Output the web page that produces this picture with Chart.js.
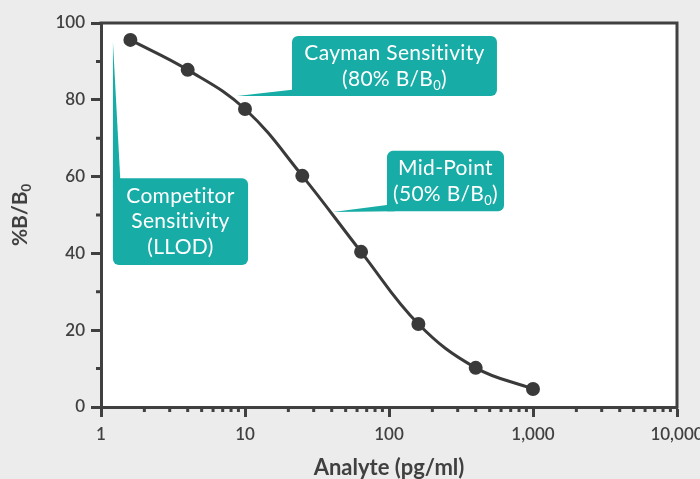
<!DOCTYPE html>
<html lang="en">
<head>
    <meta charset="utf-8">
    <title>Standard Curve</title>
    <style>
      * {
        margin: 0;
        padding: 0;
      }
      body {
        background: #ececec;
      }
      .chartBox {
        width: 700px;
        height: 479px;
      }
    </style>
</head>
<body>
    <div class="chartBox">
      <canvas id="curveChart"></canvas>
    </div>
    <script src="https://cdn.jsdelivr.net/npm/chart.js/dist/chart.umd.min.js"></script>
    <script>
        // Standard curve
        const concentrations = [1.6, 4, 10, 25, 64, 160, 400, 1000];
        const percentBound = [95.6, 87.8, 77.6, 60.2, 40.4, 21.6, 10.2, 4.7];

        const xTickValues = [1, 10, 100, 1000, 10000];
        const xTickLabels = ['1', '10', '100', '1,000', '10,000'];
        const yMinorTicks = [10, 30, 50, 70, 90];

        // Callout texts ("_0" = subscript 0)
        const caymanLines = ['Cayman Sensitivity', '(80% B/B_0)'];
        const midPointLines = ['Mid-Point', '(50% B/B_0)'];
        const competitorLines = ['Competitor', 'Sensitivity', '(LLOD)'];

        const ink = '#404040';
        const teal = '#17aca6';

        // Callout boxes and pointers, in data units (x: pg/ml, y: %B/B0)
        const callouts = [
            {
                lines: caymanLines,
                box: [21.2, 562, 96.6, 81.0],
                radii: [6, 6, 6, 0],
                wedge: [[21.2, 82.6], [8.8, 81.0], [24, 81.0]]
            },
            {
                lines: midPointLines,
                box: [96.8, 629, 66.7, 51.0],
                radii: [6, 6, 6, 0],
                wedge: [[96.8, 52.6], [40.8, 50.8], [110, 51.0]]
            },
            {
                lines: competitorLines,
                box: [1.21, 10.5, 59.6, 37.0],
                radii: [0, 6, 6, 6],
                wedge: [[1.21, 95.1], [1.21, 57], [1.36, 59.6]]
            }
        ];

        function richParts(text) {
            const parts = [];
            text.split('_').forEach((seg, i) => {
                if (i === 0) {
                    if (seg) parts.push({ t: seg, sub: false });
                    return;
                }
                parts.push({ t: seg[0], sub: true });
                if (seg.length > 1) parts.push({ t: seg.slice(1), sub: false });
            });
            return parts;
        }

        function drawRich(ctx, text, cx, cy, size, weight) {
            const parts = richParts(text);
            const subSize = Math.round(size * 0.62);
            let total = 0;
            parts.forEach(p => {
                ctx.font = weight + ' ' + (p.sub ? subSize : size) + 'px Lato';
                p.w = ctx.measureText(p.t).width;
                total += p.w;
            });
            let x = cx - total / 2;
            ctx.textAlign = 'left';
            ctx.textBaseline = 'middle';
            parts.forEach(p => {
                ctx.font = weight + ' ' + (p.sub ? subSize : size) + 'px Lato';
                ctx.fillText(p.t, x, p.sub ? cy + size * 0.32 : cy);
                x += p.w;
            });
        }

        const framePlugin = {
            id: 'frame',
            beforeDraw(chart) {
                const { ctx, chartArea: a } = chart;
                ctx.save();
                ctx.fillStyle = '#ffffff';
                ctx.fillRect(a.left, a.top, a.right - a.left, a.bottom - a.top);
                ctx.restore();
            },
            beforeDatasetsDraw(chart) {
                const { ctx } = chart;
                const xs = chart.scales.x, ys = chart.scales.y;
                ctx.save();
                ctx.letterSpacing = '0.3px';
                callouts.forEach(c => {
                    const x1 = xs.getPixelForValue(c.box[0]);
                    const x2 = xs.getPixelForValue(c.box[1]);
                    const y1 = ys.getPixelForValue(c.box[2]);
                    const y2 = ys.getPixelForValue(c.box[3]);
                    ctx.fillStyle = teal;
                    ctx.beginPath();
                    ctx.roundRect(x1, y1, x2 - x1, y2 - y1, c.radii);
                    ctx.fill();
                    ctx.beginPath();
                    c.wedge.forEach((p, i) => {
                        const px = xs.getPixelForValue(p[0]);
                        const py = ys.getPixelForValue(p[1]);
                        if (i === 0) ctx.moveTo(px, py); else ctx.lineTo(px, py);
                    });
                    ctx.closePath();
                    ctx.fill();
                    ctx.fillStyle = '#ffffff';
                    const lh = 25.5;
                    const cx = (x1 + x2) / 2;
                    const cy = (y1 + y2) / 2 - (c.lines.length - 1) * lh / 2;
                    c.lines.forEach((line, i) => drawRich(ctx, line, cx, cy + i * lh, 21, 'normal'));
                });
                ctx.restore();
            },
            afterDraw(chart) {
                const { ctx, chartArea: a } = chart;
                const xs = chart.scales.x, ys = chart.scales.y;
                ctx.save();
                ctx.strokeStyle = ink;
                ctx.lineWidth = 3;
                ctx.beginPath();
                ctx.moveTo(a.left - 1.5, a.top);
                ctx.lineTo(a.right, a.top);
                ctx.lineTo(a.right, a.bottom + 1.5);
                ctx.stroke();

                // minor ticks
                ctx.beginPath();
                yMinorTicks.forEach(v => {
                    const py = ys.getPixelForValue(v);
                    ctx.moveTo(a.left, py);
                    ctx.lineTo(a.left - 5, py);
                });
                xTickValues.slice(0, -1).forEach(d => {
                    for (let k = 2; k <= 9; k++) {
                        const px = xs.getPixelForValue(d * k);
                        ctx.moveTo(px, a.bottom);
                        ctx.lineTo(px, a.bottom + 5);
                    }
                });
                ctx.stroke();

                // y axis title with subscript
                ctx.fillStyle = ink;
                ctx.translate(20, (a.top + a.bottom) / 2);
                ctx.rotate(-Math.PI / 2);
                drawRich(ctx, '%B/B_0', 0, 0, 21, 'bold');
                ctx.restore();
            }
        };

        const ctx = document.getElementById('curveChart').getContext('2d');
        new Chart(ctx, {
            type: 'line',
            data: {
                labels: concentrations,
                datasets: [{
                    data: concentrations.map((c, i) => ({ x: c, y: percentBound[i] })),
                    borderColor: '#3a3a3a',
                    backgroundColor: '#3a3a3a',
                    borderWidth: 3,
                    pointRadius: 5.5,
                    pointHoverRadius: 5.5,
                    tension: 0.4,
                    fill: false
                }]
            },
            options: {
                responsive: true,
                maintainAspectRatio: false,
                animation: false,
                layout: {
                    padding: { left: 0, right: 23, top: 23, bottom: 0 }
                },
                plugins: {
                    legend: { display: false },
                    tooltip: { enabled: false }
                },
                scales: {
                    x: {
                        type: 'logarithmic',
                        min: 1,
                        max: 10000,
                        afterBuildTicks: scale => {
                            scale.ticks = xTickValues.map(v => ({ value: v }));
                        },
                        afterFit: scale => {
                            scale.height = 72;
                            scale.paddingRight = 0;
                        },
                        grid: {
                            drawOnChartArea: false,
                            drawTicks: true,
                            tickLength: 10,
                            tickWidth: 3,
                            tickColor: ink
                        },
                        border: { display: true, width: 3, color: ink },
                        ticks: {
                            autoSkip: false,
                            maxRotation: 0,
                            padding: 7,
                            color: ink,
                            font: { family: 'Lato', size: 17, weight: '600' },
                            callback: (v, i) => xTickLabels[i]
                        },
                        title: {
                            display: true,
                            text: 'Analyte (pg/ml)',
                            color: ink,
                            font: { family: 'Lato', size: 22, weight: 'bold', lineHeight: 1 },
                            padding: { top: 0, bottom: 0 }
                        }
                    },
                    y: {
                        min: 0,
                        max: 100,
                        afterFit: scale => {
                            scale.width = 101;
                        },
                        grid: {
                            drawOnChartArea: false,
                            drawTicks: true,
                            tickLength: 10,
                            tickWidth: 3,
                            tickColor: ink
                        },
                        border: { display: true, width: 3, color: ink },
                        ticks: {
                            stepSize: 20,
                            padding: 6,
                            color: ink,
                            font: { family: 'Lato', size: 17, weight: '600' }
                        }
                    }
                }
            },
            plugins: [framePlugin]
        });
    </script>
</body>
</html>
